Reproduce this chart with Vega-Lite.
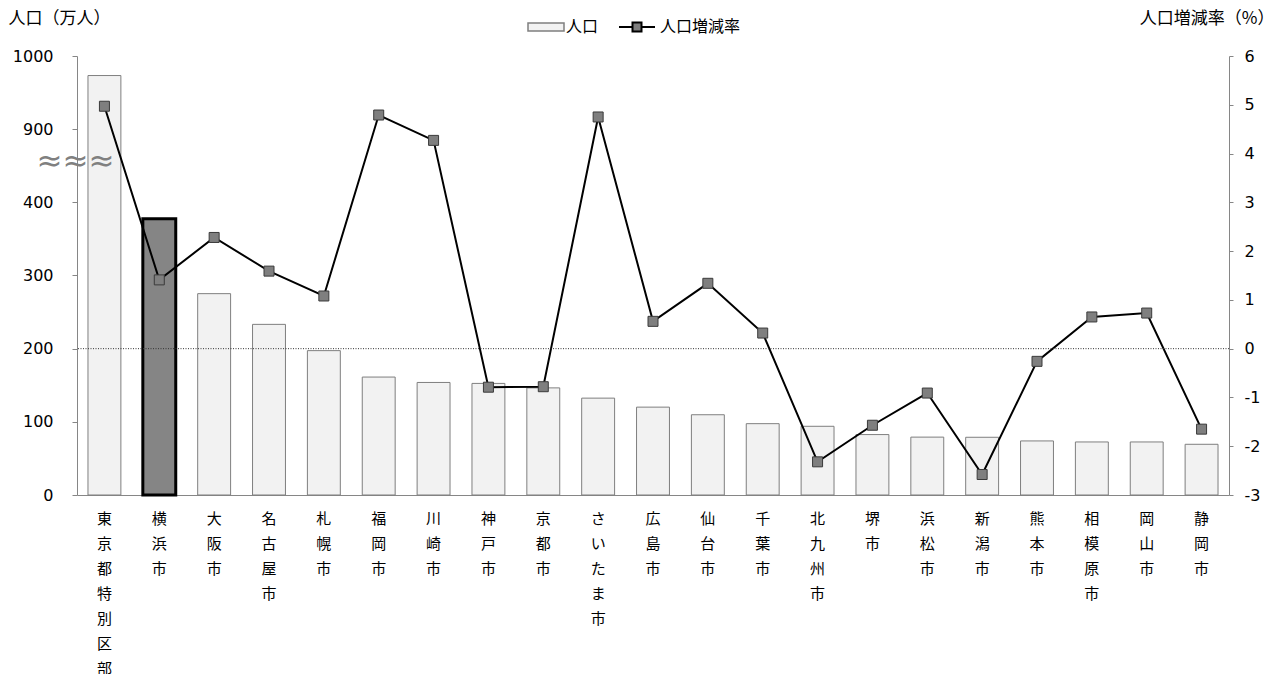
{
  "$schema": "https://vega.github.io/schema/vega-lite/v6.json",
  "width": 1152,
  "height": 439,
  "autosize": {"type": "none"},
  "padding": {"left": 77, "top": 56, "right": 48, "bottom": 179},
  "config": {
    "view": {"stroke": null},
    "font": "Noto Sans CJK JP",
    "legend": {"padding": 0}
  },
  "data": {
    "values": [
      {"name": "東京都特別区部", "pop": 973.3, "rate": 4.97},
      {"name": "横浜市", "pop": 377.7, "rate": 1.41},
      {"name": "大阪市", "pop": 275.2, "rate": 2.28},
      {"name": "名古屋市", "pop": 233.2, "rate": 1.59},
      {"name": "札幌市", "pop": 197.3, "rate": 1.08},
      {"name": "福岡市", "pop": 161.2, "rate": 4.79},
      {"name": "川崎市", "pop": 153.8, "rate": 4.27},
      {"name": "神戸市", "pop": 152.5, "rate": -0.79},
      {"name": "京都市", "pop": 146.4, "rate": -0.78},
      {"name": "さいたま市", "pop": 132.4, "rate": 4.75},
      {"name": "広島市", "pop": 120.1, "rate": 0.56},
      {"name": "仙台市", "pop": 109.7, "rate": 1.34},
      {"name": "千葉市", "pop": 97.5, "rate": 0.32},
      {"name": "北九州市", "pop": 93.9, "rate": -2.32},
      {"name": "堺市", "pop": 82.6, "rate": -1.57},
      {"name": "浜松市", "pop": 79.1, "rate": -0.91},
      {"name": "新潟市", "pop": 78.9, "rate": -2.58},
      {"name": "熊本市", "pop": 73.9, "rate": -0.26},
      {"name": "相模原市", "pop": 72.5, "rate": 0.65},
      {"name": "岡山市", "pop": 72.5, "rate": 0.73},
      {"name": "静岡市", "pop": 69.3, "rate": -1.65}
    ]
  },
  "layer": [
    {
      "encoding": {
        "x": {
          "field": "name", "type": "nominal", "sort": null,
          "scale": {
            "domain": ["東京都特別区部", "横浜市", "大阪市", "名古屋市", "札幌市", "福岡市", "川崎市", "神戸市", "京都市", "さいたま市", "広島市", "仙台市", "千葉市", "北九州市", "堺市", "浜松市", "新潟市", "熊本市", "相模原市", "岡山市", "静岡市"],
            "paddingInner": 0.4, "paddingOuter": 0.2
          },
          "axis": {
            "title": null, "labelAngle": 0, "labelExpr": "split(datum.label, '')",
            "labelFontSize": 15, "labelLineHeight": 25, "labelBaseline": "top",
            "labelPadding": 16, "ticks": false, "domainColor": "#868686",
            "labelColor": "#000000", "labelFont": "Noto Sans CJK JP", "labelOverlap": false
          }
        },
        "y": {
          "field": "pop", "type": "quantitative",
          "scale": {"domain": [0, 400, 900, 1000], "range": [439, 146.33, 73.17, 0], "nice": false, "zero": false},
          "axis": {
            "title": "人口（万人）", "values": [0, 100, 200, 300, 400, 900, 1000],
            "labelExpr": "toString(datum.value)",
            "grid": false, "domainColor": "#868686", "tickColor": "#868686", "tickSize": 5,
            "labelFont": "DejaVu Sans", "labelFontSize": 16, "labelColor": "#000000",
            "labelPadding": 19, "labelFlush": false, "labelOverlap": false,
            "titleAngle": 0, "titleX": -69, "titleY": -38, "titleAlign": "left",
            "titleBaseline": "middle", "titleFontSize": 17, "titleFontWeight": "normal",
            "titleColor": "#000000", "titleFont": "Noto Sans CJK JP"
          }
        }
      },
      "layer": [
        {
          "transform": [{"filter": "datum.name !== '横浜市'"}],
          "mark": {"type": "bar", "fill": "#f2f2f2", "stroke": "#7f7f7f", "strokeWidth": 1},
          "encoding": {
            "fill": {
              "datum": "人口", "type": "nominal",
              "scale": {"range": ["#f2f2f2"]},
              "legend": {
                "orient": "none", "legendX": 459, "legendY": -39, "title": null,
                "symbolType": "M-2,-0.44H2V0.44H-2Z", "symbolSize": 324,
                "labelFontSize": 16, "labelOffset": 10, "labelFont": "Noto Sans CJK JP",
                "labelColor": "#000000",
                "encode": {"symbols": {"update": {"stroke": {"value": "#7f7f7f"}, "strokeWidth": {"value": 1}, "fill": {"value": "#f2f2f2"}}}}
              }
            }
          }
        },
        {
          "transform": [{"filter": "datum.name === '横浜市'"}],
          "mark": {"type": "bar", "fill": "#858585", "stroke": "#000000", "strokeWidth": 3}
        }
      ]
    },
    {
      "data": {"values": [{}]},
      "mark": {"type": "text", "text": "≈≈≈", "font": "DejaVu Sans", "fontSize": 31, "fill": "#808080", "dx": -29, "baseline": "middle", "align": "center"},
      "encoding": {
        "x": {"datum": "東京都特別区部", "type": "nominal", "scale": {"domain": ["東京都特別区部", "横浜市", "大阪市", "名古屋市", "札幌市", "福岡市", "川崎市", "神戸市", "京都市", "さいたま市", "広島市", "仙台市", "千葉市", "北九州市", "堺市", "浜松市", "新潟市", "熊本市", "相模原市", "岡山市", "静岡市"]}},
        "y": {"datum": 3.83, "type": "quantitative", "scale": {"domain": [-3, 6], "nice": false, "zero": false}, "axis": null}
      }
    },
    {
      "encoding": {
        "x": {"field": "name", "type": "nominal", "sort": null},
        "y": {
          "field": "rate", "type": "quantitative",
          "scale": {"domain": [-3, 6], "nice": false, "zero": false},
          "axis": {
            "orient": "right", "title": "人口増減率（%）", "values": [-3, -2, -1, 0, 1, 2, 3, 4, 5, 6],
            "labelExpr": "toString(datum.value)",
            "grid": false, "domainColor": "#868686", "tickColor": "#868686", "tickSize": 4,
            "labelFont": "DejaVu Sans", "labelFontSize": 16, "labelColor": "#000000",
            "labelPadding": 11, "labelFlush": false, "labelOverlap": false,
            "titleAngle": 0, "titleX": 45, "titleY": -38, "titleAlign": "right",
            "titleBaseline": "middle", "titleFontSize": 17, "titleFontWeight": "normal",
            "titleColor": "#000000", "titleFont": "Noto Sans CJK JP"
          }
        }
      },
      "layer": [
        {
          "mark": {"type": "line", "strokeWidth": 2},
          "encoding": {
            "stroke": {
              "datum": "人口増減率", "type": "nominal",
              "scale": {"range": ["#000000"]},
              "legend": {
                "orient": "none", "legendX": 550, "legendY": -39, "title": null,
                "symbolType": "M-2,0H-0.5M0.5,0H2M-0.5,-0.5H0.5V0.5H-0.5Z", "symbolSize": 324,
                "labelFontSize": 16, "labelOffset": 13, "labelFont": "Noto Sans CJK JP",
                "labelColor": "#000000",
                "encode": {"symbols": {"update": {"stroke": {"value": "#000000"}, "strokeWidth": {"value": 2}, "fill": {"value": "#7f7f7f"}}}}
              }
            }
          }
        },
        {
          "mark": {"type": "point", "shape": "square", "filled": true, "fill": "#7f7f7f", "stroke": "#3a3a3a", "strokeWidth": 1, "size": 100, "opacity": 1}
        }
      ]
    },
    {
      "data": {"values": [{}]},
      "mark": {"type": "rule", "stroke": "#333333", "strokeDash": [1, 1.5], "strokeWidth": 1},
      "encoding": {
        "y": {"datum": 0, "type": "quantitative", "scale": {"domain": [-3, 6], "nice": false, "zero": false}, "axis": null}
      }
    }
  ],
  "resolve": {"scale": {"y": "independent"}, "axis": {"y": "independent"}}
}
